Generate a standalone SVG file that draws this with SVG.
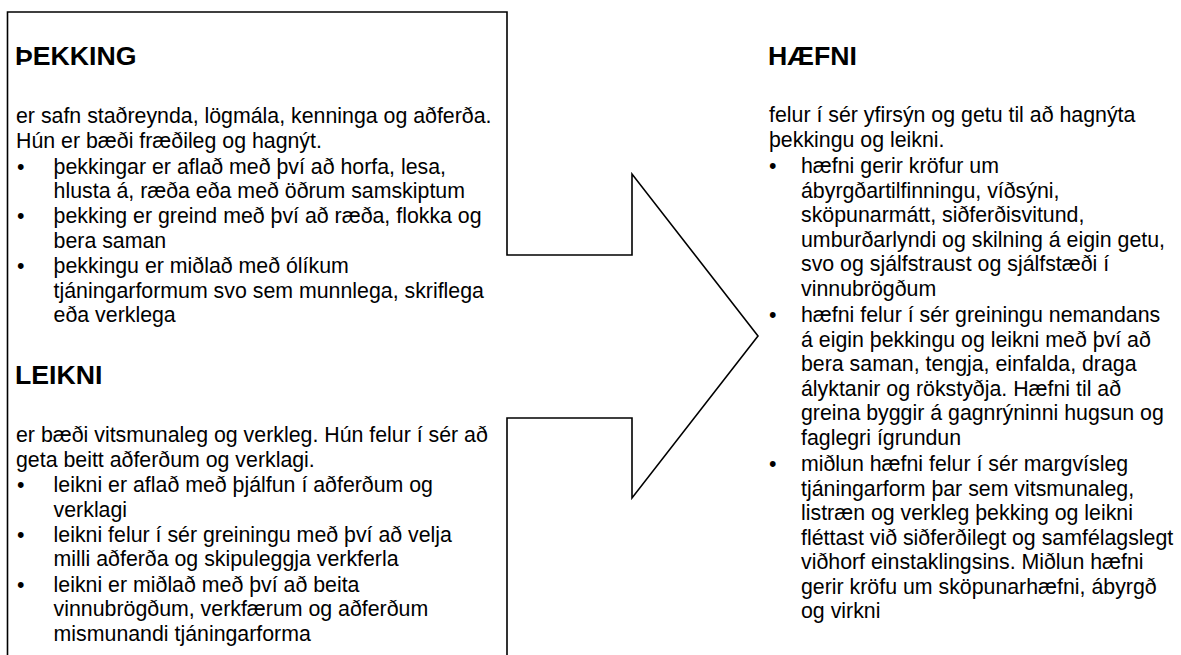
<svg xmlns="http://www.w3.org/2000/svg" width="1181" height="655" viewBox="0 0 1181 655">
<style>
  .outline { fill: #fff; stroke: #000; stroke-width: 1.6; stroke-linejoin: miter; }
  .h { font-family: "Liberation Sans", Arial, sans-serif; font-size: 26.67px; font-weight: bold; fill: #000; }
  .t { font-family: "Liberation Sans", Arial, sans-serif; font-size: 21.33px; fill: #000; }
</style>
<rect width="1181" height="655" fill="#fff"/>
<g id="connectors">
  <path class="outline" d="M7.5,12 H507 V255 H632 V174 L758,336 L632,498 V418 H507 V670 H7.5 Z"/>
</g>
<g id="node-thekking">
  <text class="h" x="15" y="65">ÞEKKING</text>
  <text class="t" x="16" y="123">er safn staðreynda, lögmála, kenninga og aðferða.</text>
  <text class="t" x="16" y="147.5">Hún er bæði fræðileg og hagnýt.</text>
  <text class="t" x="17" y="173.5">•</text>
  <text class="t" x="53.6" y="173.5">þekkingar er aflað með því að horfa, lesa,</text>
  <text class="t" x="53.6" y="198">hlusta á, ræða eða með öðrum samskiptum</text>
  <text class="t" x="17" y="223">•</text>
  <text class="t" x="53.6" y="223">þekking er greind með því að ræða, flokka og</text>
  <text class="t" x="53.6" y="247.5">bera saman</text>
  <text class="t" x="17" y="273">•</text>
  <text class="t" x="53.6" y="273">þekkingu er miðlað með ólíkum</text>
  <text class="t" x="53.6" y="297.5">tjáningarformum svo sem munnlega, skriflega</text>
  <text class="t" x="53.6" y="322">eða verklega</text>
</g>
<g id="node-leikni">
  <text class="h" x="15" y="384">LEIKNI</text>
  <text class="t" x="16" y="442">er bæði vitsmunaleg og verkleg. Hún felur í sér að</text>
  <text class="t" x="16" y="466.5">geta beitt aðferðum og verklagi.</text>
  <text class="t" x="17" y="492">•</text>
  <text class="t" x="53.6" y="492">leikni er aflað með þjálfun í aðferðum og</text>
  <text class="t" x="53.6" y="516.5">verklagi</text>
  <text class="t" x="17" y="541.5">•</text>
  <text class="t" x="53.6" y="541.5">leikni felur í sér greiningu með því að velja</text>
  <text class="t" x="53.6" y="566">milli aðferða og skipuleggja verkferla</text>
  <text class="t" x="17" y="591.5">•</text>
  <text class="t" x="53.6" y="591.5">leikni er miðlað með því að beita</text>
  <text class="t" x="53.6" y="616">vinnubrögðum, verkfærum og aðferðum</text>
  <text class="t" x="53.6" y="640.5">mismunandi tjáningarforma</text>
</g>
<g id="node-haefni">
  <text class="h" x="768" y="65">HÆFNI</text>
  <text class="t" x="769" y="122">felur í sér yfirsýn og getu til að hagnýta</text>
  <text class="t" x="769" y="146.5">þekkingu og leikni.</text>
  <text class="t" x="769" y="173">•</text>
  <text class="t" x="801" y="173">hæfni gerir kröfur um</text>
  <text class="t" x="801" y="197.5">ábyrgðartilfinningu, víðsýni,</text>
  <text class="t" x="801" y="222">sköpunarmátt, siðferðisvitund,</text>
  <text class="t" x="801" y="246.5">umburðarlyndi og skilning á eigin getu,</text>
  <text class="t" x="801" y="271">svo og sjálfstraust og sjálfstæði í</text>
  <text class="t" x="801" y="295.5">vinnubrögðum</text>
  <text class="t" x="769" y="322">•</text>
  <text class="t" x="801" y="322">hæfni felur í sér greiningu nemandans</text>
  <text class="t" x="801" y="346.5">á eigin þekkingu og leikni með því að</text>
  <text class="t" x="801" y="371">bera saman, tengja, einfalda, draga</text>
  <text class="t" x="801" y="395.5">ályktanir og rökstyðja. Hæfni til að</text>
  <text class="t" x="801" y="420">greina byggir á gagnrýninni hugsun og</text>
  <text class="t" x="801" y="444.5">faglegri ígrundun</text>
  <text class="t" x="769" y="471">•</text>
  <text class="t" x="801" y="471">miðlun hæfni felur í sér margvísleg</text>
  <text class="t" x="801" y="495.5">tjáningarform þar sem vitsmunaleg,</text>
  <text class="t" x="801" y="520">listræn og verkleg þekking og leikni</text>
  <text class="t" x="801" y="544.5">fléttast við siðferðilegt og samfélagslegt</text>
  <text class="t" x="801" y="569">viðhorf einstaklingsins. Miðlun hæfni</text>
  <text class="t" x="801" y="593.5">gerir kröfu um sköpunarhæfni, ábyrgð</text>
  <text class="t" x="801" y="618">og virkni</text>
</g>
</svg>
